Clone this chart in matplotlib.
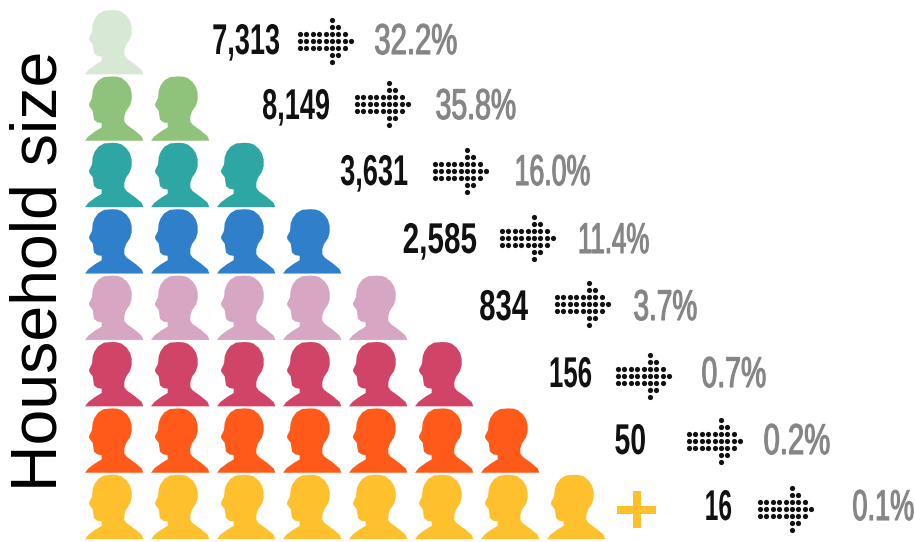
"""Household size pictogram: one row of heads per size, count and share beside it."""

import matplotlib

matplotlib.use("Agg")
import matplotlib.pyplot as plt
import numpy as np
from matplotlib.patheffects import AbstractPathEffect
from matplotlib.transforms import Affine2D

# Data
SIZES = [1, 2, 3, 4, 5, 6, 7, 8]
COUNTS = ["7,313", "8,149", "3,631", "2,585", "834", "156", "50", "16"]
SHARES = ["32.2%", "35.8%", "16.0%", "11.4%", "3.7%", "0.7%", "0.2%", "0.1%"]
COLORS = ["#d7e9d4", "#8fc37c", "#2ea6a3", "#2f7fca", "#d6a6c3",
          "#d04468", "#ff5a19", "#ffc02d"]

# Layout, in reference pixels (right edges of the texts)
COUNT_X = [280, 330, 408, 477, 528, 592, 646, 732]
TEXT_Y = [43, 108, 174, 242, 309, 376, 443, 509]
SHARE_X = [457, 516, 590, 649, 697, 766, 830, 914]
COUNT_SQUEEZE = [0.63, 0.63, 0.63, 0.69, 0.68, 0.60, 0.66, 0.57]
SHARE_SQUEEZE = [0.68, 0.66, 0.62, 0.60, 0.65, 0.66, 0.68, 0.63]
ARROW_X = [300, 357, 435, 502, 557, 618, 689, 760]
ARROW_Y = [41, 104, 171, 238, 304, 376, 441, 509]
PERSON_X0 = 85
PERSON_TOP0 = 10
PERSON_DX = 66
PERSON_DY = 66.4

# Head outline facing left, (x, y) in pixels from the top left of one person
HEAD_X = np.array([97, 112, 125, 140, 150, 155, 155, 150, 138, 133, 133, 140, 165, 185, 190,
                   15, 25, 45, 65, 65, 52, 42, 38, 28, 27, 36, 37, 38, 44, 55, 72]) / 3 - 5
HEAD_Y = np.array([15, 16, 20, 32, 47, 65, 85, 102, 120, 135, 150, 160, 178, 195, 208,
                   208, 195, 180, 168, 155, 153, 145, 118, 105, 98, 80, 70, 58, 42, 27, 17]) / 3 - 5

# Arrow made of dots: (column, row), tail of 5 columns then the head
ARROW_COLS = [0, 1, 2, 3, 4, 5, 5, 5, 5, 5, 5, 5, 6, 6, 6, 6, 6, 7, 7, 7, 8,
              0, 1, 2, 3, 4, 0, 1, 2, 3, 4]
ARROW_ROWS = [0, 0, 0, 0, 0, -3, -2, -1, 0, 1, 2, 3, -2, -1, 0, 1, 2, -1, 0, 1, 0,
              -1, -1, -1, -1, -1, 1, 1, 1, 1, 1]


class Squeeze(AbstractPathEffect):
    """Narrow a text around a pixel x, no condensed font is installed."""

    def __init__(self, sx, cx, lw=0):
        super().__init__()
        self.sx = sx
        self.cx = cx
        self.lw = lw

    def draw_path(self, renderer, gc, tpath, affine, rgbFace=None):
        squeeze = Affine2D().translate(-self.cx, 0).scale(self.sx, 1).translate(self.cx, 0)
        gc0 = renderer.new_gc()
        gc0.copy_properties(gc)
        if self.lw:
            # thicken the thin weight a little
            gc0.set_linewidth(self.lw)
            gc0.set_foreground(rgbFace)
        renderer.draw_path(gc0, tpath, affine + squeeze, rgbFace)
        gc0.restore()


fig = plt.figure(figsize=(9.15, 5.42), dpi=100)
ax = fig.add_axes([0, 0, 1, 1])
ax.set_xlim(0, 915)
ax.set_ylim(542, 0)
ax.axis("off")

for i, size in enumerate(SIZES):
    top = PERSON_TOP0 + i * PERSON_DY
    for k in range(size):
        ax.fill(HEAD_X + PERSON_X0 + k * PERSON_DX, HEAD_Y + top,
                color=COLORS[i], lw=0, zorder=2)

    ax.text(COUNT_X[i], TEXT_Y[i], COUNTS[i], family="Liberation Sans", weight="bold",
            fontsize=31, ha="right", va="center", color="#111111",
            path_effects=[Squeeze(COUNT_SQUEEZE[i], COUNT_X[i])])
    ax.text(SHARE_X[i], TEXT_Y[i], SHARES[i], family="Liberation Sans",
            fontsize=31, ha="right", va="center", color="#858585",
            path_effects=[Squeeze(SHARE_SQUEEZE[i], SHARE_X[i], lw=0.8)])

    ax.scatter(ARROW_X[i] + np.array(ARROW_COLS) * 6.4, ARROW_Y[i] + np.array(ARROW_ROWS) * 7.1,
               marker="o", s=14, color="#111111", lw=0, zorder=3)

# plus sign after the last row
ax.plot([617, 656], [509.5, 509.5], color=COLORS[-1], lw=5.8, solid_capstyle="butt")
ax.plot([636.5, 636.5], [491, 528], color=COLORS[-1], lw=5.8, solid_capstyle="butt")

ax.text(40, 270.5, "Household size", rotation=90, family="Liberation Sans",
        fontsize=46.4, ha="center", va="center", color="black")

fig.savefig("out.png", dpi=100)
